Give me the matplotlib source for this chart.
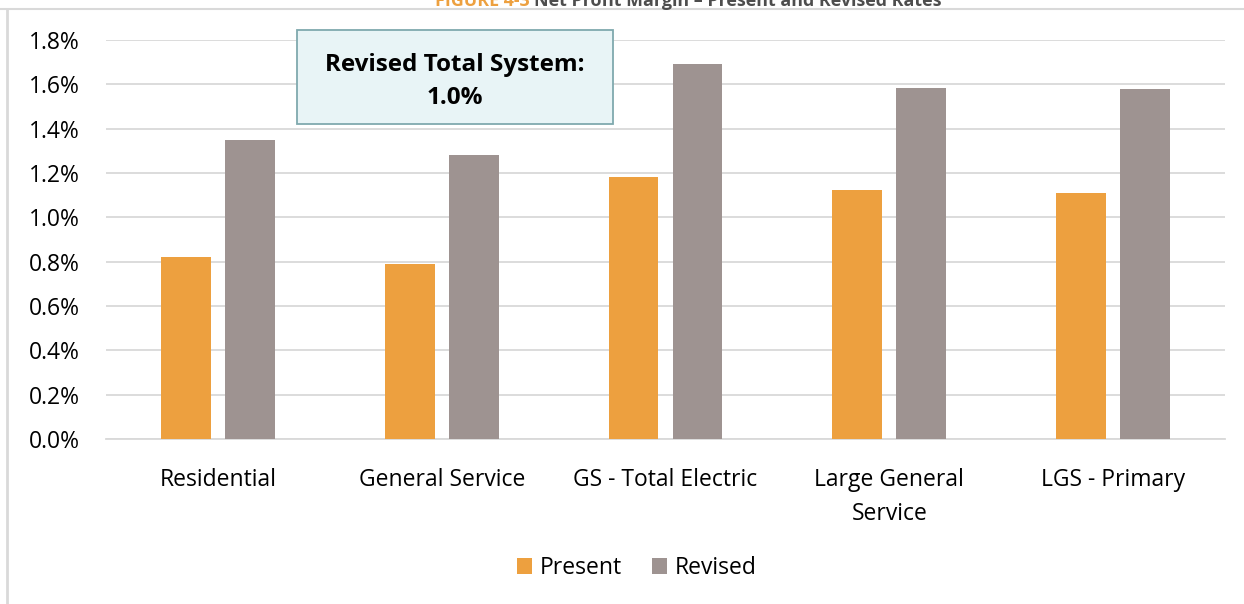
import matplotlib
matplotlib.use("Agg")
import matplotlib.pyplot as plt
import numpy as np
from matplotlib.ticker import FuncFormatter
from matplotlib.lines import Line2D
from matplotlib.patches import Rectangle

categories = ["Residential", "General Service", "GS - Total Electric", "Large General\nService", "LGS - Primary"]
present = [0.82, 0.79, 1.18, 1.125, 1.11]
revised = [1.35, 1.28, 1.69, 1.585, 1.58]
series_names = ["Present", "Revised"]
colors = ["#EDA03F", "#9E9391"]
yticks = [0.0, 0.2, 0.4, 0.6, 0.8, 1.0, 1.2, 1.4, 1.6, 1.8]

plt.rcParams['font.family'] = ['Open Sans', 'DejaVu Sans']
FS = 16.5

W, H = 1244, 604
fig = plt.figure(figsize=(W/100, H/100), dpi=100)
ax = fig.add_axes([106/W, 1-439/H, (1225-106)/W, (439-40)/H])

x = np.arange(len(categories))
w = 0.223
off = 0.143
ax.bar(x - off, present, w, color=colors[0], label=series_names[0], zorder=3)
ax.bar(x + off, revised, w, color=colors[1], label=series_names[1], zorder=3)

ax.set_xlim(-0.5, len(categories) - 0.5)
ax.set_ylim(0, 1.8)
ax.set_yticks(yticks)
ax.yaxis.set_major_formatter(FuncFormatter(lambda v, p: f"{v:.1f}%"))
ax.grid(axis='y', color='#D9D9D9', linewidth=1.3, zorder=0)
for s in ['top', 'right', 'left']:
    ax.spines[s].set_visible(False)
ax.spines['bottom'].set_color('#D9D9D9')
ax.spines['bottom'].set_linewidth(1.3)
ax.tick_params(axis='both', length=0, labelsize=FS, colors='#000000')
ax.tick_params(axis='y', pad=19)
ax.tick_params(axis='x', pad=21)
ax.set_xticks(x)
ax.set_xticklabels(categories, linespacing=1.55)

leg = fig.legend(loc='center', bbox_to_anchor=(637/W, 1-568/H), ncol=2, frameon=False,
                 fontsize=FS, handlelength=0.65, handleheight=0.65, handletextpad=0.35,
                 columnspacing=1.3)

# annotation box
fig.patches.append(Rectangle((297/W, 1-124/H), (613-297)/W, (124-30)/H, transform=fig.transFigure,
                             facecolor='#E8F4F6', edgecolor='#7FA9AE', linewidth=1.3, zorder=5))
fig.text(455/W, 1-81.5/H, "Revised Total System:\n1.0%", ha='center', va='center',
         fontsize=17.5, fontweight='bold', linespacing=1.45, zorder=6)

# page frame lines
fig.add_artist(Line2D([7/W, 7/W], [0, 1-9/H], color='#D9D9D9', linewidth=2))
fig.add_artist(Line2D([0, 1], [1-9/H, 1-9/H], color='#D9D9D9', linewidth=1.5))

# clipped figure title
t1 = fig.text(435/W, 1-6/H, "FIGURE 4-3 ", color='#EDA03F', fontsize=12.9, fontweight='bold',
              ha='left', va='baseline')
fig.canvas.draw()
bb = t1.get_window_extent()
fig.text(bb.x1/W, 1-6/H, "Net Profit Margin \u2013 Present and Revised Rates", color='#4D4D4D',
         fontsize=12.9, fontweight='bold', ha='left', va='baseline')

fig.savefig("out.png", dpi=100)
